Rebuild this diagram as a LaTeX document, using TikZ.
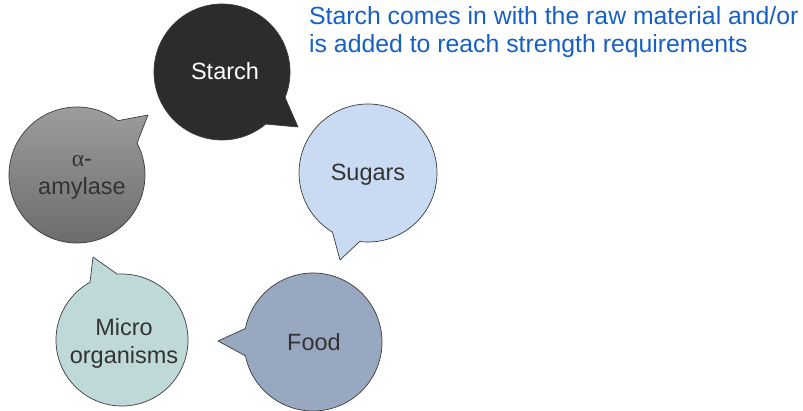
\documentclass[tikz,border=0pt]{standalone}
\usepackage{fontspec}
\setmainfont{Liberation Sans}
\newfontfamily\alphafont{Liberation Serif}
\definecolor{starchc}{RGB}{46,43,43}
\definecolor{sugarc}{RGB}{201,219,242}
\definecolor{microc}{RGB}{191,217,217}
\definecolor{foodc}{RGB}{152,168,192}
\definecolor{amytop}{RGB}{160,160,160}
\definecolor{amybot}{RGB}{105,105,105}
\definecolor{linec}{RGB}{60,60,60}
\definecolor{txtc}{RGB}{51,51,51}
\definecolor{bluec}{RGB}{22,96,196}
\tikzset{
  bubble/.style={draw=linec, line width=0.7pt, line join=round},
  btext/.style={font=\fontsize{23.5}{28}\selectfont, text=txtc, align=center, inner sep=0pt},
}
\begin{document}
\begin{tikzpicture}[x=1pt,y=1pt]
\useasboundingbox (0,0) rectangle (803,410);
% Starch
\coordinate (cs) at (222,338);
\coordinate (ts) at (298,283);
\path[bubble, fill=starchc] (cs) ++(-22:68) arc[start angle=-22, end angle=310, radius=68] -- (ts) -- cycle;
\node[btext, text=white] (starch) at (225,339) {Starch};
% alpha-amylase
\coordinate (ca) at (77,235);
\coordinate (ta) at (148,295);
\path[bubble, top color=amytop, bottom color=amybot] (ca) ++(53:68) arc[start angle=53, end angle=388, radius=68] -- (ta) -- cycle;
\node[btext] (amy) at (82,233) {{\alphafont α}-\\amylase};
% Sugars
\coordinate (cg) at (368,237);
\coordinate (tg) at (340,150);
\path[bubble, fill=sugarc] (cg) ++(-97:69) arc[start angle=-97, end angle=239, radius=69] -- (tg) -- cycle;
\node[btext] (sugars) at (368,235) {Sugars};
% Micro organisms
\coordinate (cm) at (122,70);
\coordinate (tm) at (93,153);
\path[bubble, fill=microc] (cm) ++(119:66) arc[start angle=119, end angle=454, radius=66] -- (tm) -- cycle;
\node[btext] (micro) at (124,67) {Micro\\organisms};
% Food
\coordinate (cf) at (313,68);
\coordinate (tf) at (218,69);
\path[bubble, fill=foodc] (cf) ++(191.6:69) arc[start angle=191.6, end angle=528.7, radius=69] -- (tf) -- cycle;
\node[btext] (food) at (314,68) {Food};
% note
\node[anchor=base west, align=left, inner sep=0pt, text=bluec, font=\fontsize{24.8}{28}\selectfont] (note) at (309,357) {Starch comes in with the raw material and/or\\is added to reach strength requirements};
\end{tikzpicture}
\end{document}
